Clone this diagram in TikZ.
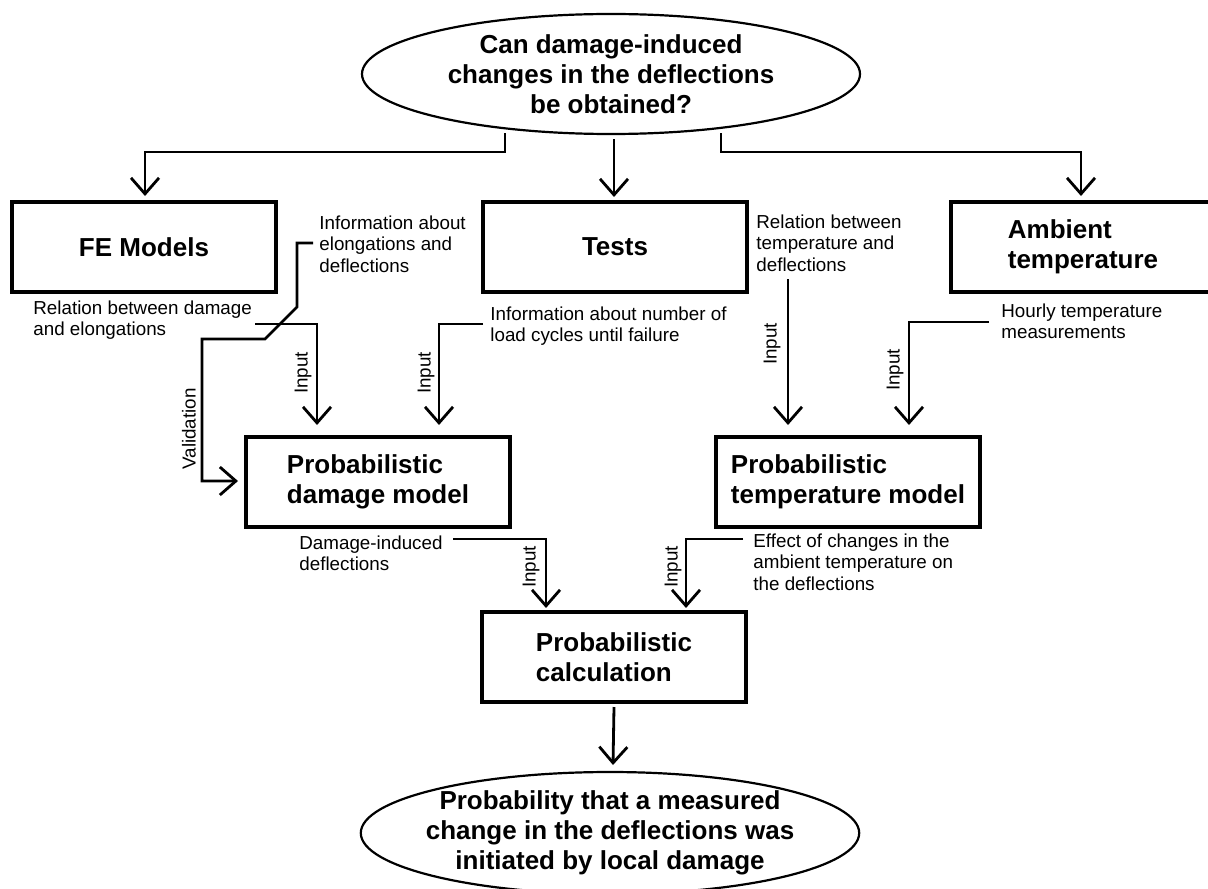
\documentclass[tikz,border=0pt]{standalone}
\usepackage{fontspec}
\setmainfont{Liberation Sans}
\usetikzlibrary{shapes.geometric,arrows.meta}

\begin{document}
\begin{tikzpicture}
  [x=0.5pt,y=-0.5pt,
   box/.style={draw, line width=1.6pt, minimum width=132pt, minimum height=45pt, inner sep=0pt, align=left, font=\fontsize{13}{15}\selectfont\bfseries},
   oval/.style={draw, ellipse, line width=1.1pt, minimum width=249pt, minimum height=60pt, inner sep=0pt, align=center, font=\fontsize{13}{15}\selectfont\bfseries},
   note/.style={anchor=north west, inner sep=0pt, align=left, font=\fontsize{9.4}{10.8}\selectfont},
   lbl/.style={rotate=90, inner sep=0pt, font=\fontsize{9.4}{10.8}\selectfont},
   arr/.style={line width=1.4pt, -{Straight Barb[length=8pt,width=14pt]}}]
  \path[use as bounding box] (0,0) rectangle (1208,888);
  \clip (0,0) rectangle (1208,888);

  \node[oval] (q) at (611,74) {Can damage-induced\\changes in the deflections\\be obtained?};
  \node[box] (fe) at (144,247) {FE Models};
  \node[box] (tests) at (615,247) {Tests};
  \node[box] (amb) at (1083,247) {Ambient\\temperature};
  \node[box] (dmg) at (378,482) {Probabilistic\\damage model};
  \node[box] (tmp) at (848,482) {Probabilistic\\temperature model};
  \node[box] (calc) at (614,657) {Probabilistic\\calculation};
  \node[oval, inner xsep=-4pt, minimum height=61pt] (res) at (610,833) {Probability that a measured\\change in the deflections was\\initiated by local damage};

  \node[note] (relFE) at (33,300) {Relation between damage\\and elongations};
  \node[note] (infoFE) at (319,215) {Information about\\elongations and\\deflections};
  \node[note] (infoT) at (490,306) {Information about number of\\load cycles until failure};
  \node[note] (relT) at (756,214) {Relation between\\temperature and\\deflections};
  \node[note] (hourly) at (1001,303) {Hourly temperature\\measurements};
  \node[note] (dmgDefl) at (299,535) {Damage-induced\\deflections};
  \node[note] (effect) at (753,533) {Effect of changes in the\\ambient temperature on\\the deflections};

  \foreach \name/\x/\y/\txt in {inA/303/373/Input, inB/426/373/Input, inC/772/344/Input, inD/895/370/Input, inE/531/567/Input, inF/673/567/Input, val/189/429/Validation}
    \node[lbl] (\name) at (\x,\y) {\txt};

  \coordinate (qL) at (505,133);
  \coordinate (qM) at (614,139);
  \coordinate (qR) at (721,133);
  \coordinate (feIn) at (145,196);
  \coordinate (testsIn) at (614,197);
  \coordinate (ambIn) at (1081,196);
  \coordinate (feOut) at (255,324);
  \coordinate (infoFEOut) at (313,243);
  \coordinate (testsOut) at (483,324);
  \coordinate (relTOut) at (788,279);
  \coordinate (hourlyOut) at (989,322);
  \coordinate (dmgOut) at (453,539);
  \coordinate (tmpOut) at (743,539);
  \coordinate (dmgInA) at (317,425);
  \coordinate (dmgInB) at (439,425);
  \coordinate (dmgInV) at (238,481);
  \coordinate (tmpInA) at (788,425);
  \coordinate (tmpInB) at (909,425);
  \coordinate (calcInA) at (546,608);
  \coordinate (calcInB) at (686,608);
  \coordinate (resIn) at (613,765);

  \draw[arr] (qL) -- ++(0,19) -| (feIn);
  \draw[arr] (qM) -- (testsIn);
  \draw[arr] (qR) -- ++(0,19) -| (ambIn);
  \draw[arr] (feOut) -| (dmgInA);
  \draw[arr] (infoFEOut) -- (297,243) -- (297,307) -- (265,339) -- (202,339) |- (dmgInV);
  \draw[arr] (testsOut) -| (dmgInB);
  \draw[arr] (relTOut) -- (tmpInA);
  \draw[arr] (hourlyOut) -| (tmpInB);
  \draw[arr] (dmgOut) -| (calcInA);
  \draw[arr] (tmpOut) -| (calcInB);
  \draw[arr] (calc.south |- 0,707) -- (resIn);
\end{tikzpicture}
\end{document}
